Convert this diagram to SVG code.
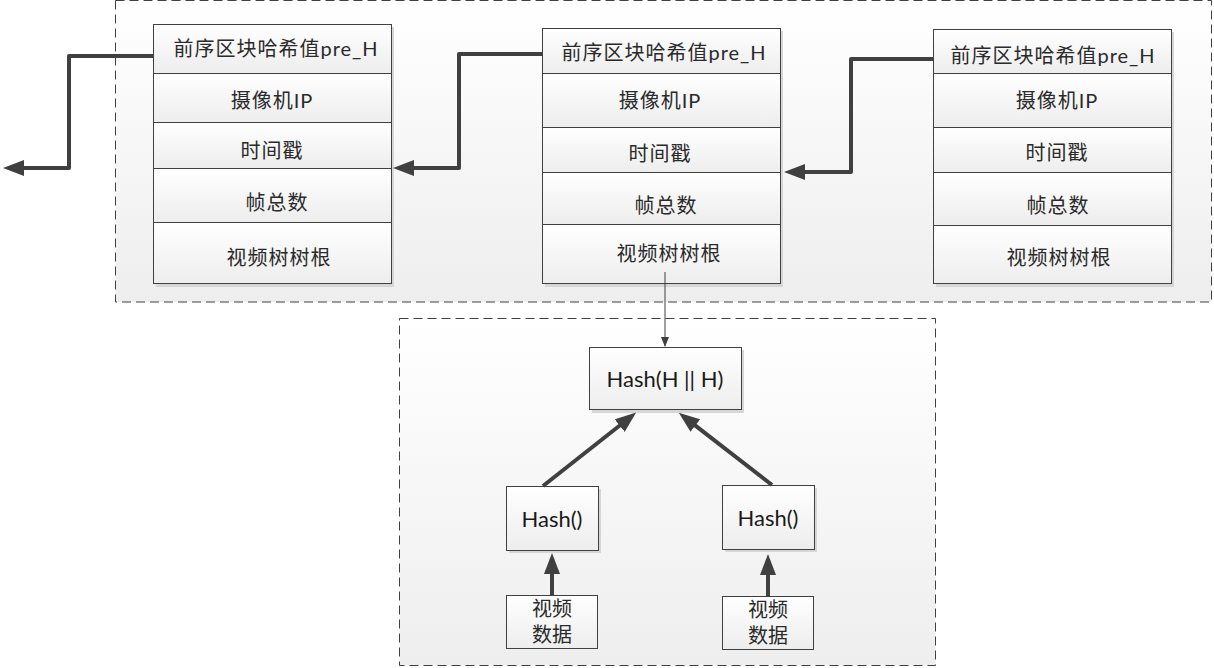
<svg xmlns="http://www.w3.org/2000/svg" width="1214" height="668" viewBox="0 0 1214 668">
<defs>
<linearGradient id="gBox" x1="0" y1="0" x2="0" y2="1">
<stop offset="0" stop-color="#ffffff"/>
<stop offset="1" stop-color="#eeeeee"/>
</linearGradient>
<linearGradient id="gNode" x1="0" y1="0" x2="0" y2="1">
<stop offset="0" stop-color="#ffffff"/>
<stop offset="1" stop-color="#ededed"/>
</linearGradient>
<marker id="big" markerUnits="userSpaceOnUse" markerWidth="22" markerHeight="16" refX="11" refY="8" orient="auto" viewBox="0 0 22 16">
<path d="M0,0 L21,8 L0,16 z" fill="#404040"/>
</marker>
<marker id="small" markerUnits="userSpaceOnUse" markerWidth="10" markerHeight="8" refX="9" refY="4" orient="auto" viewBox="0 0 10 8">
<path d="M0,0 L10,4 L0,8 z" fill="#404040"/>
</marker>
</defs>
<style>
.frame{fill:url(#gBox);stroke:#404040;stroke-width:1;stroke-dasharray:9 5}
.cell{fill:url(#gNode);stroke:#404040;stroke-width:1}
.shadow{fill:#d6d6d6}
.t{font-family:"Lato","Noto Sans CJK SC",sans-serif;font-size:20px;letter-spacing:1px;fill:#2a2a2a;text-anchor:middle;dominant-baseline:central}
.d{font-family:"Lato","Noto Sans CJK SC",sans-serif;font-size:20px;fill:#2a2a2a;text-anchor:middle;dominant-baseline:central}
.h{font-family:"Lato","Noto Sans CJK SC",sans-serif;font-size:22px;fill:#1a1a1a;text-anchor:middle;dominant-baseline:central}
.thick{fill:none;stroke:#404040;stroke-width:4;stroke-linejoin:round;marker-end:url(#big)}
.thin{fill:none;stroke:#404040;stroke-width:1;marker-end:url(#small)}
</style>
<rect width="1214" height="668" fill="#ffffff"/>
<g id="frames">
<rect class="frame" x="115.5" y="0.5" width="1096" height="301.5"/>
<rect class="frame" x="399.5" y="318.5" width="536" height="347"/>
</g>
<g id="block1">
<rect class="shadow" x="156" y="27" width="238" height="260"/>
<rect class="cell" x="153.5" y="24.5" width="238" height="49"/>
<rect class="cell" x="153.5" y="73.5" width="238" height="49"/>
<rect class="cell" x="153.5" y="122.5" width="238" height="46"/>
<rect class="cell" x="153.5" y="168.5" width="238" height="54"/>
<rect class="cell" x="153.5" y="222.5" width="238" height="61"/>
<text class="t" x="276" y="48">前序区块哈希值pre_H</text>
<text class="t" x="272" y="100">摄像机IP</text>
<text class="t" x="272" y="150">时间戳</text>
<text class="t" x="277" y="202">帧总数</text>
<text class="t" x="279" y="257">视频树树根</text>
</g>
<g id="block2">
<rect class="shadow" x="545" y="31" width="238" height="256"/>
<rect class="cell" x="542.5" y="28.5" width="238" height="45"/>
<rect class="cell" x="542.5" y="73.5" width="238" height="54"/>
<rect class="cell" x="542.5" y="127.5" width="238" height="45"/>
<rect class="cell" x="542.5" y="172.5" width="238" height="52"/>
<rect class="cell" x="542.5" y="224.5" width="238" height="59"/>
<text class="t" x="664" y="52">前序区块哈希值pre_H</text>
<text class="t" x="660" y="100">摄像机IP</text>
<text class="t" x="660" y="153">时间戳</text>
<text class="t" x="666" y="205">帧总数</text>
<text class="t" x="669" y="253">视频树树根</text>
</g>
<g id="block3">
<rect class="shadow" x="936" y="32" width="238" height="255"/>
<rect class="cell" x="933.5" y="29.5" width="238" height="44"/>
<rect class="cell" x="933.5" y="73.5" width="238" height="54"/>
<rect class="cell" x="933.5" y="127.5" width="238" height="45"/>
<rect class="cell" x="933.5" y="172.5" width="238" height="53"/>
<rect class="cell" x="933.5" y="225.5" width="238" height="58"/>
<text class="t" x="1053" y="55">前序区块哈希值pre_H</text>
<text class="t" x="1057" y="100">摄像机IP</text>
<text class="t" x="1057" y="152">时间戳</text>
<text class="t" x="1058" y="205">帧总数</text>
<text class="t" x="1059" y="257">视频树树根</text>
</g>
<g id="hashRoot">
<rect class="shadow" x="592" y="350" width="152" height="63"/>
<rect class="cell" x="589.5" y="347.5" width="152" height="62"/>
<text class="h" x="665" y="378">Hash(H || H)</text>
</g>
<g id="hashLeft">
<rect class="shadow" x="509" y="489" width="92" height="64"/>
<rect class="cell" x="506.5" y="486.5" width="92" height="64"/>
<text class="h" x="552" y="518">Hash()</text>
</g>
<g id="hashRight">
<rect class="shadow" x="725" y="488" width="92" height="64"/>
<rect class="cell" x="722.5" y="485.5" width="92" height="64"/>
<text class="h" x="768" y="517">Hash()</text>
</g>
<g id="dataLeft">
<rect class="cell" x="506.5" y="595.5" width="91" height="53"/>
<text class="d" x="552" y="608">视频</text>
<text class="d" x="552" y="634">数据</text>
</g>
<g id="dataRight">
<rect class="cell" x="722.5" y="596.5" width="91" height="53"/>
<text class="d" x="768" y="609">视频</text>
<text class="d" x="768" y="635">数据</text>
</g>
<g id="connectors">
<path class="thick" d="M153,56 H69 V168 H13"/>
<path class="thick" d="M542,54 H459 V168 H403"/>
<path class="thick" d="M933,59 H851 V172 H794"/>
<path class="thin" d="M665,272 V346"/>
<path class="thick" d="M543,486 L628.3,418.8"/>
<path class="thick" d="M772,485 L686.7,418.8"/>
<path class="thick" d="M552,595 V563"/>
<path class="thick" d="M768,596 V564"/>
</g>
</svg>
